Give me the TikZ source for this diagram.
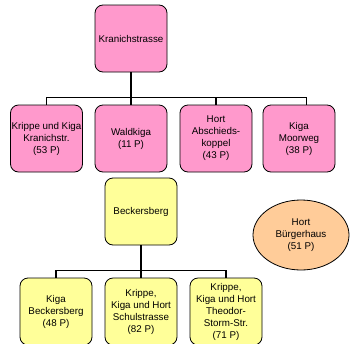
\documentclass[tikz,border=0pt]{standalone}
\usepackage{fontspec}
\setmainfont{Liberation Sans}
\usetikzlibrary{shapes.geometric, positioning, calc}
\definecolor{kranpink}{HTML}{FF99CC}
\definecolor{beckyellow}{HTML}{FFFF99}
\definecolor{hortpeach}{HTML}{FFCC99}

\tikzset{
    unit/.style={rectangle, rounded corners=8pt, draw, line width=0.8pt, minimum width=72pt, minimum height=67pt, inner sep=1pt, align=center, font=\fontsize{9.8}{12}\selectfont},
    pinkunit/.style={unit, fill=kranpink},
    yellowunit/.style={unit, fill=beckyellow},
    conn/.style={line width=1.5pt},
    thinconn/.style={line width=0.8pt}
}

\begin{document}
\begin{tikzpicture}[x=1pt, y=-1pt]
    \useasboundingbox (0,0) rectangle (350,343);

    % Define the Kranichstrasse group
    \node[pinkunit] (kran) at (131,38.5) {Kranichstrasse};
    \node[pinkunit] (kranKrippe) at (46.5,138.5) {Krippe und Kiga\\Kranichstr.\\(53 P)};
    \node[pinkunit] (waldkiga) at (131,138.5) {Waldkiga\\(11 P)};
    \node[pinkunit] (abschied) at (216,138.5) {Hort\\Abschieds-\\koppel\\(43 P)};
    \node[pinkunit] (moorweg) at (299,138.5) {Kiga\\Moorweg\\(38 P)};

    % Define the Beckersberg group
    \node[yellowunit] (beck) at (141,211.5) {Beckersberg};
    \node[yellowunit] (beckKiga) at (56,311.5) {Kiga\\Beckersberg\\(48 P)};
    \node[yellowunit] (schul) at (141,311.5) {Krippe,\\Kiga und Hort\\Schulstrasse\\(82 P)};
    \node[yellowunit] (theodor) at (226,311.5) {Krippe,\\Kiga und Hort\\Theodor-\\Storm-Str.\\(71 P)};

    % The Hort on its own
    \node[ellipse, draw, line width=0.8pt, fill=hortpeach, minimum width=96pt, minimum height=70pt, inner sep=0pt, align=center, font=\fontsize{9.8}{12}\selectfont] (buerger) at (301,235) {Hort\\Bürgerhaus\\(51 P)};

    % Bus lines under the heads
    \coordinate (kranbus) at ($(kran.south)+(0,25)$);
    \coordinate (beckbus) at ($(beck.south)+(0,25)$);

    % Connect the Kranichstrasse tree
    \draw[conn] (kran.south) -- (kranbus) -| (kranKrippe.north);
    \draw[conn] (kran.south) -- (waldkiga.north);
    \draw[conn] (kranbus) -| (abschied.north);
    \draw[thinconn] (abschied.north |- kranbus) -| ($(moorweg.north)+(7,0)$);

    % Connect the Beckersberg tree
    \draw[conn] (beck.south) -- (beckbus) -| (beckKiga.north);
    \draw[conn] (beck.south) -- (schul.north);
    \draw[conn] (beckbus) -| (theodor.north);
\end{tikzpicture}
\end{document}
